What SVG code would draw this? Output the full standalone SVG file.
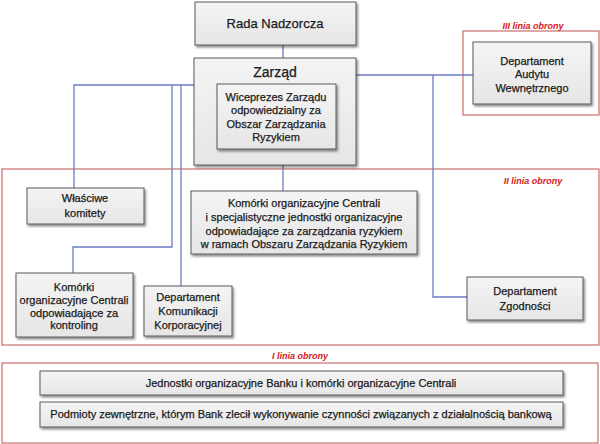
<svg xmlns="http://www.w3.org/2000/svg" width="600" height="444" viewBox="0 0 600 444">
<defs>
<linearGradient id="g" x1="0" y1="0" x2="0" y2="1">
<stop offset="0" stop-color="#f4f4f4"/>
<stop offset="1" stop-color="#e6e6e6"/>
</linearGradient>
<filter id="sh" x="-10%" y="-10%" width="125%" height="140%">
<feDropShadow dx="1.5" dy="2" stdDeviation="1" flood-color="#000" flood-opacity="0.45"/>
</filter>
<style>
.box{fill:url(#g);stroke:#5a5a5a;stroke-width:1;filter:url(#sh)}
.frame{fill:none;stroke:#c0504d;stroke-width:1}
.c{fill:none;stroke:#6b7cc4;stroke-width:1.3}
text{font-family:"Liberation Sans",Arial,sans-serif;fill:#1a1a1a;stroke:#1a1a1a;stroke-width:0.25;text-anchor:middle;font-size:11px}
.lbl{fill:#d42020;stroke:none;font-style:italic;font-weight:bold;font-size:9px}
</style>
</defs>
<rect class="frame" x="463" y="31" width="136" height="84"/>
<rect class="frame" x="2" y="169" width="597" height="176"/>
<rect class="frame" x="2" y="363" width="596" height="80"/>
<text class="lbl" x="533" y="29">III linia obrony</text>
<text class="lbl" x="533" y="184">II linia obrony</text>
<text class="lbl" x="300" y="359">I linia obrony</text>
<g id="connectors">
<path class="c" d="M283 45V58"/>
<path class="c" d="M356 75H473"/>
<path class="c" d="M433 75V297H467"/>
<path class="c" d="M194 85H74V188"/>
<path class="c" d="M172 85V247H73V273"/>
<path class="c" d="M181 85V286"/>
<path class="c" d="M283 165V191"/>
</g>
<g id="rada"><rect class="box" x="195" y="2" width="161" height="43"/><text x="275" y="28" style="font-size:13px">Rada Nadzorcza</text></g>
<g id="zarzad"><rect class="box" x="194" y="58" width="162" height="107"/><text x="275" y="77" style="font-size:14px">Zarząd</text></g>
<g id="wiceprezes"><rect class="box" x="217" y="84" width="119" height="65"/>
<text x="276" y="101">Wiceprezes Zarządu</text><text x="276" y="114">odpowiedzialny za</text><text x="276" y="128">Obszar Zarządzania</text><text x="276" y="141">Ryzykiem</text></g>
<g id="audyt"><rect class="box" x="473" y="42" width="118" height="62"/>
<text x="532" y="65">Departament</text><text x="532" y="78">Audytu</text><text x="532" y="92">Wewnętrznego</text></g>
<g id="komitety"><rect class="box" x="27" y="188" width="117" height="36"/>
<text x="85" y="202">Właściwe</text><text x="85" y="217">komitety</text></g>
<g id="komorki-ryzyko"><rect class="box" x="191" y="191" width="226" height="63"/>
<text x="304" y="207">Komórki  organizacyjne Centrali</text><text x="304" y="221">i specjalistyczne  jednostki organizacyjne</text><text x="304" y="235">odpowiadające za zarządzania ryzykiem</text><text x="304" y="248">w ramach Obszaru Zarządzania Ryzykiem</text></g>
<g id="kontroling"><rect class="box" x="16" y="273" width="117" height="64"/>
<text x="74" y="291">Komórki</text><text x="74" y="304">organizacyjne Centrali</text><text x="74" y="317">odpowiadające za</text><text x="74" y="329">kontroling</text></g>
<g id="komunikacja"><rect class="box" x="144" y="286" width="88" height="50"/>
<text x="188" y="301">Departament</text><text x="188" y="315">Komunikacji</text><text x="188" y="329">Korporacyjnej</text></g>
<g id="zgodnosc"><rect class="box" x="467" y="277" width="116" height="43"/>
<text x="525" y="295">Departament</text><text x="525" y="310">Zgodności</text></g>
<g id="jednostki"><rect class="box" x="40" y="371" width="523" height="24"/>
<text x="301" y="387">Jednostki organizacyjne Banku i komórki organizacyjne Centrali</text></g>
<g id="podmioty"><rect class="box" x="40" y="402" width="523" height="25"/>
<text x="301" y="418">Podmioty zewnętrzne, którym Bank zlecił wykonywanie czynności związanych z działalnością bankową</text></g>
</svg>
